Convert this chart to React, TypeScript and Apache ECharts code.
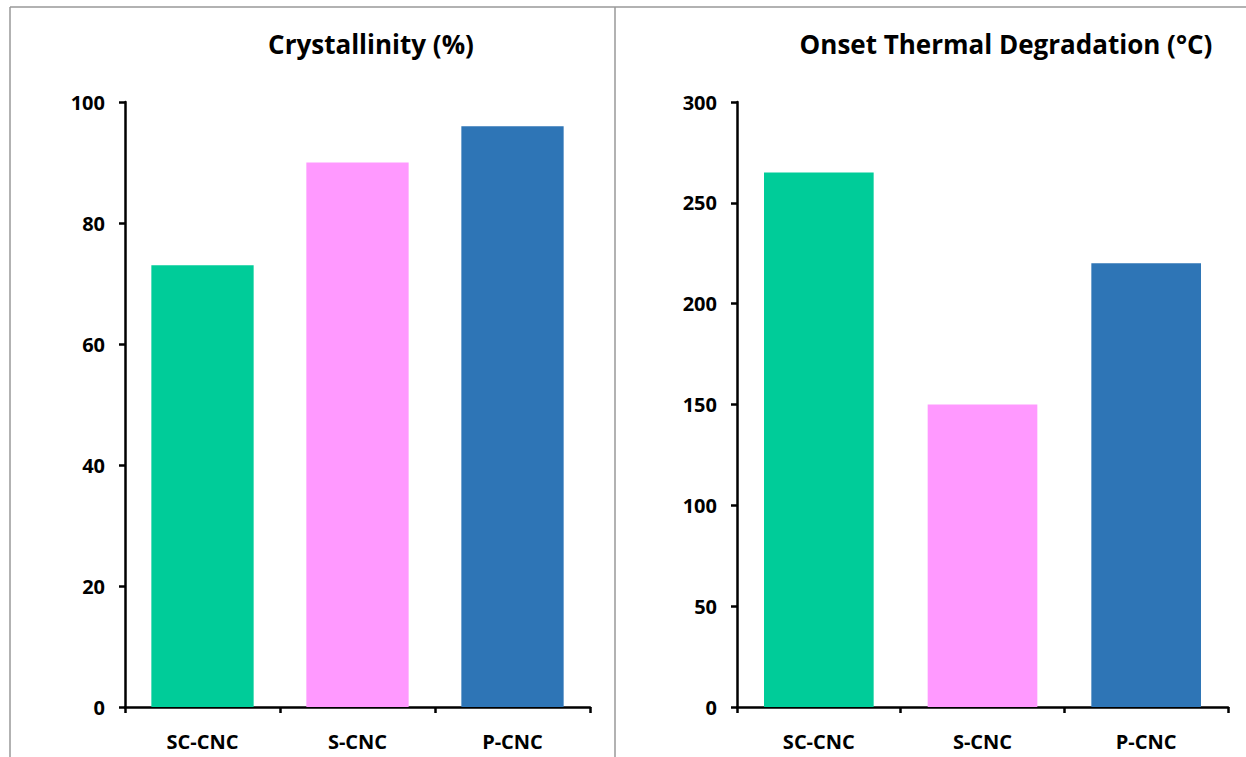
import React, { useEffect, useRef } from "react";
import * as echarts from "echarts";

const categories = ["SC-CNC", "S-CNC", "P-CNC"];
const crystallinity = [73, 90, 96];
const onsetTemp = [265, 150, 220];
const barColors = ["#00CC99", "#FF99FF", "#2E75B6"];
const titles = ["Crystallinity (%)", "Onset Thermal Degradation (\u00B0C)"];

const FONT = "'Open Sans', 'Noto Sans', sans-serif";

export default function App() {
  const ref = useRef<HTMLDivElement>(null);
  useEffect(() => {
    if (!ref.current) return;
    const chart = echarts.init(ref.current, undefined, { renderer: "svg" });
    const axisLine = { show: true, lineStyle: { color: "#000", width: 2.5 } };
    const axisTick = { show: true, length: 6, lineStyle: { color: "#000", width: 2.5 } };
    const labelStyle = { color: "#000", fontWeight: "bold" as const, fontSize: 20, fontFamily: FONT };
    const titleStyle = { fontFamily: FONT, fontWeight: "bold" as const, fontSize: 26, color: "#000" };
    const mkData = (vals: number[]) =>
      vals.map((v, i) => ({ value: v, itemStyle: { color: barColors[i] } }));
    chart.setOption({
      animation: false,
      backgroundColor: "#fff",
      title: [
        { text: titles[0], left: 366, top: 26, textAlign: "center", textStyle: titleStyle },
        { text: titles[1], left: 1001, top: 26, textAlign: "center", textStyle: titleStyle },
      ],
      grid: [
        { left: 125, right: 656, top: 102, bottom: 50 },
        { left: 737, right: 18, top: 102, bottom: 50 },
      ],
      xAxis: [0, 1].map((i) => ({
        type: "category",
        gridIndex: i,
        data: categories,
        axisLine,
        axisTick: { ...axisTick, alignWithLabel: false },
        axisLabel: { ...labelStyle, margin: 24 },
        splitLine: { show: false },
      })),
      yAxis: [
        {
          type: "value",
          gridIndex: 0,
          min: 0,
          max: 100,
          interval: 20,
          axisLine,
          axisTick,
          axisLabel: { ...labelStyle, margin: 20 },
          splitLine: { show: false },
        },
        {
          type: "value",
          gridIndex: 1,
          min: 0,
          max: 300,
          interval: 50,
          axisLine,
          axisTick,
          axisLabel: { ...labelStyle, margin: 20 },
          splitLine: { show: false },
        },
      ],
      series: [
        {
          type: "bar",
          xAxisIndex: 0,
          yAxisIndex: 0,
          data: mkData(crystallinity),
          barCategoryGap: "34%",
        },
        {
          type: "bar",
          xAxisIndex: 1,
          yAxisIndex: 1,
          data: mkData(onsetTemp),
          barCategoryGap: "33%",
        },
      ],
      graphic: [
        { type: "line", shape: { x1: 10, y1: 7, x2: 1246, y2: 7 }, style: { stroke: "#999", lineWidth: 1.5 } },
        { type: "line", shape: { x1: 10, y1: 7, x2: 10, y2: 757 }, style: { stroke: "#999", lineWidth: 1.5 } },
        { type: "line", shape: { x1: 615, y1: 7, x2: 615, y2: 757 }, style: { stroke: "#999", lineWidth: 1.5 } },
      ],
    });
    return () => chart.dispose();
  }, []);
  return (
    <div
      ref={ref}
      style={{ position: "absolute", left: 0, top: 0, width: 1246, height: 757 }}
    />
  );
}
